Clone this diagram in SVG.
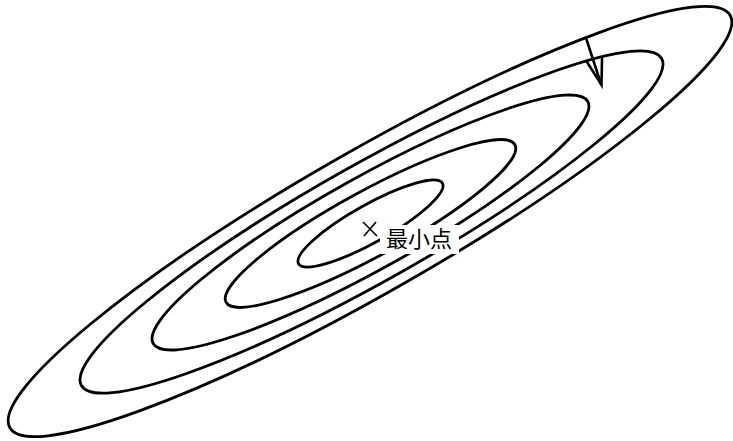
<svg xmlns="http://www.w3.org/2000/svg" width="733" height="441" viewBox="0 0 733 441">
<style>
.c{fill:none;stroke:#000;stroke-width:2.8}
.a{fill:none;stroke:#000;stroke-width:2.6;stroke-linecap:round}
.t{font-family:"Noto Sans CJK SC","Noto Sans CJK JP",sans-serif;font-size:22px;fill:#000}
</style>
<rect width="733" height="441" fill="#fff"/>
<g id="contours">
<ellipse id="c1" class="c" cx="370" cy="221.5" rx="415" ry="70.6" transform="rotate(-29.8 370 221.5)"/>
<ellipse id="c2" class="c" cx="371.5" cy="222" rx="333" ry="58.2" transform="rotate(-29.4 371.5 222)"/>
<ellipse id="c3" class="c" cx="370.5" cy="222.5" rx="248.7" ry="46.1" transform="rotate(-29.1 370.5 222.5)"/>
<ellipse id="c4" class="c" cx="370.5" cy="223.5" rx="164.5" ry="32.7" transform="rotate(-28.6 370.5 223.5)"/>
<ellipse id="c5" class="c" cx="370.5" cy="223.5" rx="82.4" ry="18.9" transform="rotate(-29.2 370.5 223.5)"/>
</g>
<g id="connectors">
<line class="a" x1="586" y1="38" x2="601" y2="84"/>
<polyline class="a" points="587,62 601.5,85 602,59"/>
</g>
<g id="minimum">
<rect x="380" y="225" width="79" height="29" fill="#fff"/>
<path d="M363,222 L377,236 M376,222 L364,236" stroke="#000" stroke-width="1.6" fill="none"/>
<text class="t" x="386" y="247">最小点</text>
</g>
</svg>
